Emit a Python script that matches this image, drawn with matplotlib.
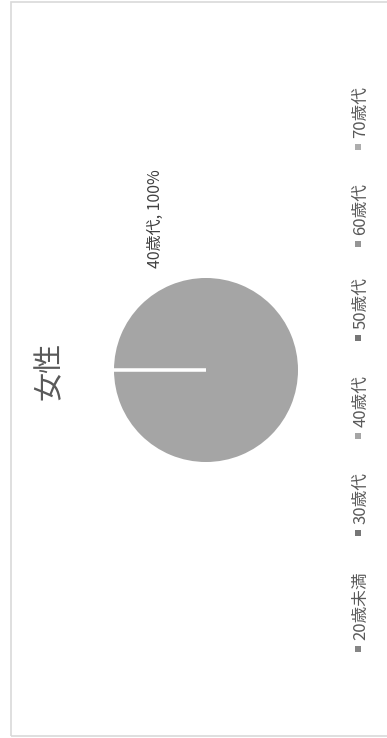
import matplotlib

matplotlib.use("Agg")
import matplotlib.pyplot as plt
from matplotlib.patches import Rectangle

# 図全体は 90° 回転した状態で描かれている（文字は下から上へ読む）
W, H = 387, 738

categories = ["20歳未満", "30歳代", "40歳代", "50歳代", "60歳代", "70歳代"]
shares = [0, 0, 100, 0, 0, 0]
colors = ["#858585", "#767676", "#a5a5a5", "#767676", "#959595", "#adadad"]
title = "女性"

# レイアウト（ピクセル, 上端基準）
PIE_CX, PIE_CY, PIE_R = 206, 370, 92
LEGEND_X = 358
legend_marker_px = [649, 533, 436, 338, 244, 147]
MARKER = 6

plt.rcParams["font.family"] = ["Noto Sans CJK JP", "DejaVu Sans"]


def fx(px):
    return px / W


def fy(py):
    return 1 - py / H


fig = plt.figure(figsize=(W / 100, H / 100), dpi=100)

# 外枠
fig.add_artist(
    Rectangle(
        (fx(11), fy(736)), fx(395) - fx(11), fy(2) - fy(736),
        transform=fig.transFigure, fill=False, edgecolor="#d9d9d9", lw=1.2,
    )
)

# 円グラフ
ax = fig.add_axes([fx(PIE_CX - PIE_R), fy(PIE_CY + PIE_R), 2 * PIE_R / W, 2 * PIE_R / H])
ax.pie(
    shares, colors=colors, startangle=180, counterclock=False,
    wedgeprops=dict(edgecolor="white", linewidth=2),
)
ax.set_xlim(-0.985, 0.985)
ax.set_ylim(-0.985, 0.985)
ax.set_aspect("equal")
ax.axis("off")

# データラベル
total = sum(shares)
for cat, val in zip(categories, shares):
    if val > 0:
        fig.text(
            fx(155), fy(219), f"{cat}, {val / total * 100:.0f}%",
            rotation=90, ha="center", va="center", fontsize=11.5, color="#404040",
        )

# タイトル
fig.text(fx(50), fy(371), title, rotation=90, ha="center", va="center",
         fontsize=21, color="#595959")

# 凡例（回転済み）
for cat, col, my in zip(categories, colors, legend_marker_px):
    fig.add_artist(
        Rectangle(
            (fx(LEGEND_X - MARKER / 2), fy(my + MARKER / 2)), MARKER / W, MARKER / H,
            transform=fig.transFigure, facecolor=col, edgecolor="none",
        )
    )
    fig.text(fx(LEGEND_X + 3), fy(my - 9), cat, rotation=90, ha="center", va="bottom",
             fontsize=12, color="#595959")

fig.savefig("out.png", dpi=100)
